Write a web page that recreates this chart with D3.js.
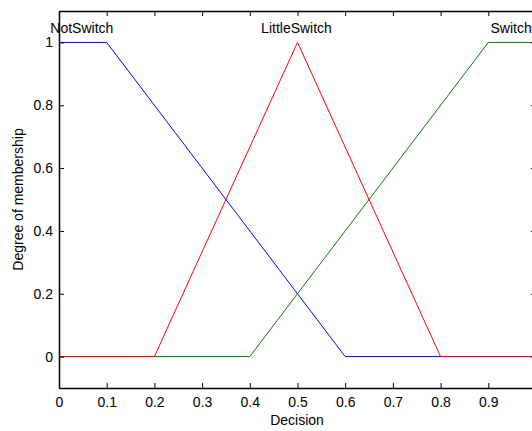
<!doctype html>
<html>
<head>
<script src="https://cdnjs.cloudflare.com/ajax/libs/d3/7.8.5/d3.min.js"></script>
<style>
  body { margin: 0; background: #fff; }
  svg { display: block; font-family: "Liberation Sans", Arial, sans-serif; }
</style>
</head>
<body>
<svg width="532" height="431"></svg>
<script>
// membership functions: breakpoints on the Decision axis
var mfNames = ["NotSwitch", "LittleSwitch", "Switch"];
var mfColors = ["#0000ff", "#ff0000", "#008000"];
var notSwitchX = [0, 0.1, 0.6, 1], notSwitchY = [1, 1, 0, 0];
var littleX = [0, 0.2, 0.5, 0.8, 1], littleY = [0, 0, 1, 0, 0];
var switchX = [0, 0.4, 0.9, 1], switchY = [0, 0, 1, 1];
var labelX = [0.05, 0.5, 0.95];
var xTicks = [0, 0.1, 0.2, 0.3, 0.4, 0.5, 0.6, 0.7, 0.8, 0.9, 1];
var yTicks = [0, 0.2, 0.4, 0.6, 0.8, 1];

var svg = d3.select("svg");
var padL = 59, padR = 536, padT = 11, padB = 388;

var x = d3.scaleLinear().domain([0, 1]).range([padL, padR]);
var y = d3.scaleLinear().domain([-0.1, 1.1]).range([padB, padT]);

var series = [
  { name: mfNames[0], color: mfColors[0], pts: d3.zip(notSwitchX, notSwitchY) },
  { name: mfNames[2], color: mfColors[2], pts: d3.zip(switchX, switchY) },
  { name: mfNames[1], color: mfColors[1], pts: d3.zip(littleX, littleY) }
];

var line = d3.line().x(function (d) { return x(d[0]); }).y(function (d) { return y(d[1]); });

svg.selectAll(".mf")
  .data(series)
  .enter().append("path")
  .attr("class", "mf")
  .attr("d", function (d) { return line(d.pts); })
  .attr("fill", "none")
  .attr("stroke", function (d) { return d.color; })
  .attr("stroke-width", 1);

// names above each curve
svg.selectAll(".mfLabel")
  .data(mfNames)
  .enter().append("text")
  .attr("class", "mfLabel")
  .attr("x", function (d, i) { return x(labelX[i]) - 1; })
  .attr("y", y(1.05))
  .attr("dy", "0.45em")
  .attr("text-anchor", "middle")
  .attr("font-size", 14)
  .text(function (d) { return d; });

function fmt(d) { return d === 0 || d === 1 ? String(d) : d3.format(".1f")(d); }

// axes, ticks inward on all four sides (the right edge falls outside the window)
var axB = d3.axisBottom(x).tickValues(xTicks).tickSizeInner(-5).tickSizeOuter(0).tickPadding(9)
  .tickFormat(function (d) { return d === 1 ? "" : fmt(d); });
svg.append("g").attr("transform", "translate(0," + padB + ")").call(axB);

var axT = d3.axisTop(x).tickValues(xTicks).tickSizeInner(-5).tickSizeOuter(0).tickFormat("");
svg.append("g").attr("transform", "translate(0," + padT + ")").call(axT);

var axL = d3.axisLeft(y).tickValues(yTicks).tickSizeInner(-5).tickSizeOuter(0).tickPadding(6).tickFormat(fmt);
svg.append("g").attr("transform", "translate(" + padL + ",0)").call(axL);

var axR = d3.axisRight(y).tickValues(yTicks).tickSizeInner(-5).tickSizeOuter(0).tickFormat("");
svg.append("g").attr("transform", "translate(" + padR + ",0)").call(axR);

svg.selectAll(".domain").attr("stroke", "#000").attr("stroke-width", 1.5);
svg.selectAll(".tick line").attr("stroke", "#000");
svg.selectAll(".tick text").attr("font-size", 14).attr("fill", "#000")
  .attr("font-family", "Liberation Sans, Arial, sans-serif");

svg.append("text")
  .attr("x", 297)
  .attr("y", 425)
  .attr("text-anchor", "middle")
  .attr("font-size", 14)
  .text("Decision");

svg.append("text")
  .attr("transform", "translate(23," + y(0.5) + ") rotate(-90)")
  .attr("text-anchor", "middle")
  .attr("font-size", 14)
  .text("Degree of membership");
</script>
</body>
</html>
